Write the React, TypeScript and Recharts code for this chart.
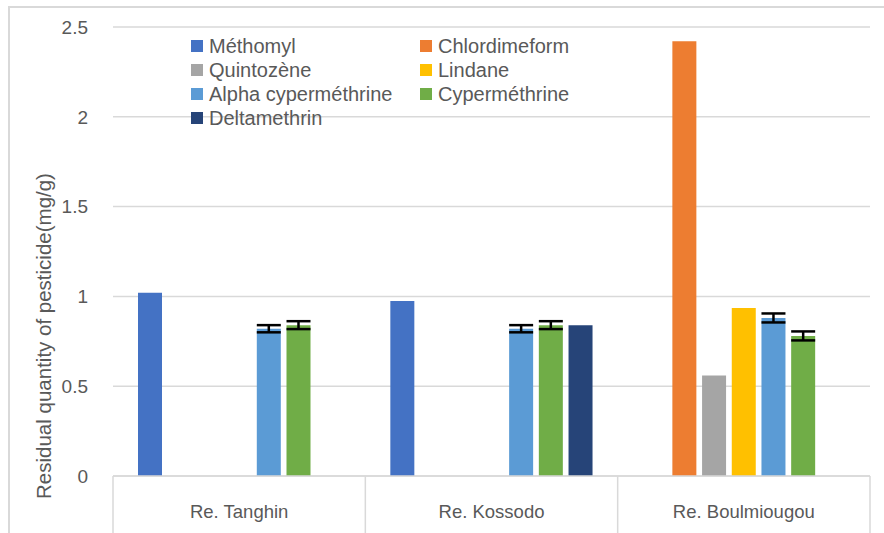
import React from "react";
import { BarChart, Bar, XAxis, YAxis, CartesianGrid, ErrorBar } from "recharts";

const sites = ["Re. Tanghin", "Re. Kossodo", "Re. Boulmiougou"];
const methomyl = [1.02, 0.975, null];
const chlordimeform = [null, null, 2.42];
const quintozene = [null, null, 0.56];
const lindane = [null, null, 0.935];
const alphaCypermethrine = [0.82, 0.82, 0.88];
const alphaCypermethrineErr = [0.02, 0.02, 0.025];
const cypermethrine = [0.84, 0.84, 0.78];
const cypermethrineErr = [0.022, 0.022, 0.025];
const deltamethrin = [null, 0.84, null];
const yTicks = [0, 0.5, 1, 1.5, 2, 2.5];

const series = [
  { key: "methomyl", name: "Méthomyl", color: "#4472C4" },
  { key: "chlordimeform", name: "Chlordimeform", color: "#ED7D31" },
  { key: "quintozene", name: "Quintozène", color: "#A5A5A5" },
  { key: "lindane", name: "Lindane", color: "#FFC000" },
  { key: "alpha", name: "Alpha cyperméthrine", color: "#5B9BD5", err: "alphaErr" },
  { key: "cyper", name: "Cyperméthrine", color: "#70AD47", err: "cyperErr" },
  { key: "delta", name: "Deltamethrin", color: "#264478" },
];

const data = sites.map((site, i) => ({
  site,
  methomyl: methomyl[i],
  chlordimeform: chlordimeform[i],
  quintozene: quintozene[i],
  lindane: lindane[i],
  alpha: alphaCypermethrine[i],
  alphaErr: alphaCypermethrineErr[i],
  cyper: cypermethrine[i],
  cyperErr: cypermethrineErr[i],
  delta: deltamethrin[i],
}));

const FONT = "'Liberation Sans', Arial, sans-serif";
const TEXT = "#595959";
const LINE = "#d9d9d9";

function SiteTick(props: any) {
  const { x, y, payload, index, visibleTicksCount } = props;
  const half = payload?.offset ?? 757 / sites.length / 2;
  const last = index === (visibleTicksCount ?? sites.length) - 1;
  return (
    <g>
      <line x1={x - half} y1={y} x2={x - half} y2={y + 80} stroke={LINE} strokeWidth={1.5} />
      {last && <line x1={x + half} y1={y} x2={x + half} y2={y + 80} stroke={LINE} strokeWidth={1.5} />}
      <text x={x} y={y + 42} textAnchor="middle" fill={TEXT} fontSize={18.5} fontFamily={FONT}>
        {payload.value}
      </text>
    </g>
  );
}

function YTitle() {
  return (
    <text
      x={43}
      y={336}
      transform="rotate(-90 43 336)"
      textAnchor="middle"
      dominantBaseline="central"
      fill={TEXT}
      fontSize={20.5}
      fontFamily={FONT}
    >
      Residual quantity of pesticide(mg/g)
    </text>
  );
}

export default function App() {
  return (
    <div style={{ position: "fixed", left: 0, top: 0, width: 884, height: 533, overflow: "hidden", background: "#fff" }}>
      <div
        style={{
          position: "absolute",
          left: 8,
          top: 6,
          width: 2000,
          height: 2000,
          border: `2px solid ${LINE}`,
        }}
      />
      <div style={{ position: "absolute", left: 0, top: 0 }}>
        <BarChart
          width={884}
          height={533}
          data={data}
          margin={{ top: 27, right: 14, bottom: 0, left: 0 }}
          barSize={24}
          barGap={5.7}
        >
          <CartesianGrid vertical={false} stroke={LINE} strokeWidth={1.5} />
          <XAxis
            dataKey="site"
            height={57}
            tickSize={0}
            tickMargin={0}
            tickLine={false}
            axisLine={{ stroke: LINE, strokeWidth: 1.5 }}
            tick={<SiteTick />}
            interval={0}
          />
          <YAxis
            width={113}
            domain={[0, 2.5]}
            ticks={yTicks}
            axisLine={false}
            tickLine={false}
            tickSize={0}
            tickMargin={25}
            tick={{ fontSize: 19, fill: TEXT, fontFamily: FONT }}
            label={<YTitle />}
          />
          {series.map((s) => (
            <Bar key={s.key} dataKey={s.key} name={s.name} fill={s.color} isAnimationActive={false}>
              {s.err && (
                <ErrorBar dataKey={s.err} width={12} strokeWidth={2.5} stroke="#000" direction="y" />
              )}
            </Bar>
          ))}
        </BarChart>
      </div>
      <div
        style={{
          position: "absolute",
          left: 191,
          top: 34,
          display: "grid",
          gridTemplateColumns: "229px 229px",
          gridAutoRows: "24px",
          fontFamily: FONT,
          fontSize: 20,
          color: TEXT,
          zIndex: 2,
        }}
      >
        {series.map((s) => (
          <div key={s.key} style={{ display: "flex", alignItems: "center", whiteSpace: "nowrap", lineHeight: "24px" }}>
            <span style={{ width: 12, height: 12, background: s.color, marginRight: 6, flex: "none" }} />
            {s.name}
          </div>
        ))}
      </div>
    </div>
  );
}
